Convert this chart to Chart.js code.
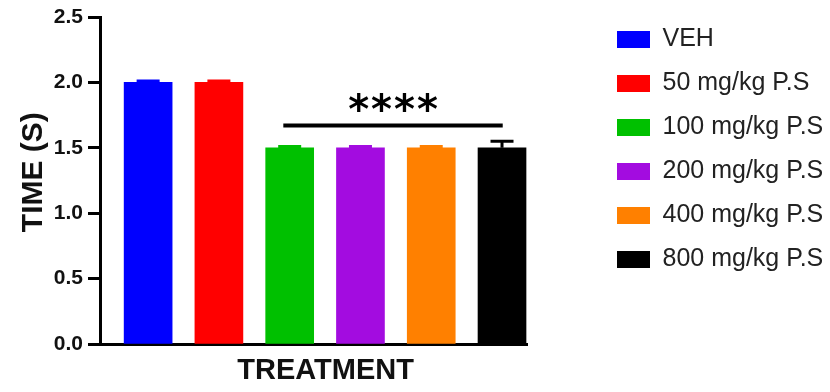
<!DOCTYPE html>
<html>
<head>
<meta charset="utf-8">
<script src="https://cdn.jsdelivr.net/npm/chart.js@4.4.1/dist/chart.umd.min.js"></script>
<style>
  html, body { margin: 0; padding: 0; background: #fff; }
  #wrap { width: 830px; height: 392px; }
</style>
</head>
<body>
<div id="wrap"><canvas id="mychart" width="830" height="392"></canvas></div>
<script>
// Datos
const groups = ['VEH', '50 mg/kg P.S', '100 mg/kg P.S', '200 mg/kg P.S', '400 mg/kg P.S', '800 mg/kg P.S'];
const meanTime = [2.0, 2.0, 1.5, 1.5, 1.5, 1.5];
const semTime = [0.01, 0.01, 0.01, 0.01, 0.01, 0.05];
const barColors = ['#0000ff', '#ff0000', '#00c000', '#a30ce0', '#ff8000', '#000000'];
const yTicks = [0, 0.5, 1.0, 1.5, 2.0, 2.5];
const sigSpan = [2.91, 6.01];
const sigLevel = 1.67;
const sigLabel = '****';

const font = 'Liberation Sans, Arial, sans-serif';

// barras de error + linea de significancia
const extras = {
  id: 'extras',
  afterDatasetsDraw(chart) {
    const ctx = chart.ctx;
    const x = chart.scales.x;
    const y = chart.scales.y;
    ctx.save();
    ctx.lineWidth = 3;
    chart.data.datasets.forEach((ds, i) => {
      const bar = chart.getDatasetMeta(i).data[0];
      const top = y.getPixelForValue(meanTime[i] + semTime[i]);
      ctx.strokeStyle = barColors[i];
      ctx.beginPath();
      ctx.moveTo(bar.x, bar.y);
      ctx.lineTo(bar.x, top);
      ctx.moveTo(bar.x - 11.5, top);
      ctx.lineTo(bar.x + 11.5, top);
      ctx.stroke();
    });
    const ly = y.getPixelForValue(sigLevel);
    ctx.strokeStyle = '#000';
    ctx.lineWidth = 4;
    ctx.beginPath();
    ctx.moveTo(x.getPixelForValue(sigSpan[0]), ly);
    ctx.lineTo(x.getPixelForValue(sigSpan[1]), ly);
    ctx.stroke();
    ctx.fillStyle = '#000';
    ctx.font = 'bold 40px "DejaVu Sans"';
    ctx.letterSpacing = '2px';
    ctx.textAlign = 'center';
    ctx.textBaseline = 'alphabetic';
    ctx.fillText(sigLabel, x.getPixelForValue((sigSpan[0] + sigSpan[1]) / 2) + 1, ly - 3);
    ctx.restore();
  }
};

new Chart(document.querySelector('#mychart'), {
  type: 'bar',
  data: {
    datasets: groups.map((g, i) => ({
      label: g,
      data: [{ x: i + 1, y: meanTime[i] }],
      backgroundColor: barColors[i],
      borderWidth: 0,
      barThickness: 48,
      grouped: false
    }))
  },
  options: {
    responsive: false,
    animation: false,
    layout: { padding: { top: 8, right: 0, bottom: 0, left: 0 } },
    plugins: {
      tooltip: { enabled: false },
      legend: {
        position: 'right',
        align: 'start',
        maxWidth: 232,
        labels: {
          boxWidth: 33,
          boxHeight: 17,
          padding: 19,
          color: '#222',
          font: { family: font, size: 25 }
        }
      }
    },
    scales: {
      x: {
        type: 'linear',
        offset: false,
        min: 0.32,
        max: 6.353,
        grid: { display: false },
        ticks: { display: false },
        border: { color: '#000', width: 3 },
        title: { display: true, text: '   TREATMENT', color: '#111', font: { family: font, size: 29, weight: 'bold' } },
        afterFit(s) { s.height = 48; }
      },
      y: {
        min: 0,
        max: 2.5,
        afterBuildTicks(s) { s.ticks = yTicks.map(v => ({ value: v })); },
        ticks: {
          padding: 5,
          color: '#111',
          font: { family: font, size: 21, weight: 'bold' },
          callback: v => v.toFixed(1)
        },
        grid: { drawOnChartArea: false, drawTicks: true, tickLength: 12, tickWidth: 3, tickColor: '#000' },
        border: { color: '#000', width: 3 },
        title: {
          display: true, text: '  TIME (S)', color: '#111',
          padding: { top: 16, bottom: 4 },
          font: { family: font, size: 30, weight: 'bold' }
        },
        afterFit(s) { s.width = 100; s.paddingTop = 17; }
      },
      gap: {
        type: 'linear',
        position: 'right',
        display: true,
        grid: { display: false },
        border: { display: false },
        ticks: { display: false },
        afterFit(s) { s.width = 71; }
      }
    }
  },
  plugins: [extras]
});
</script>
</body>
</html>
